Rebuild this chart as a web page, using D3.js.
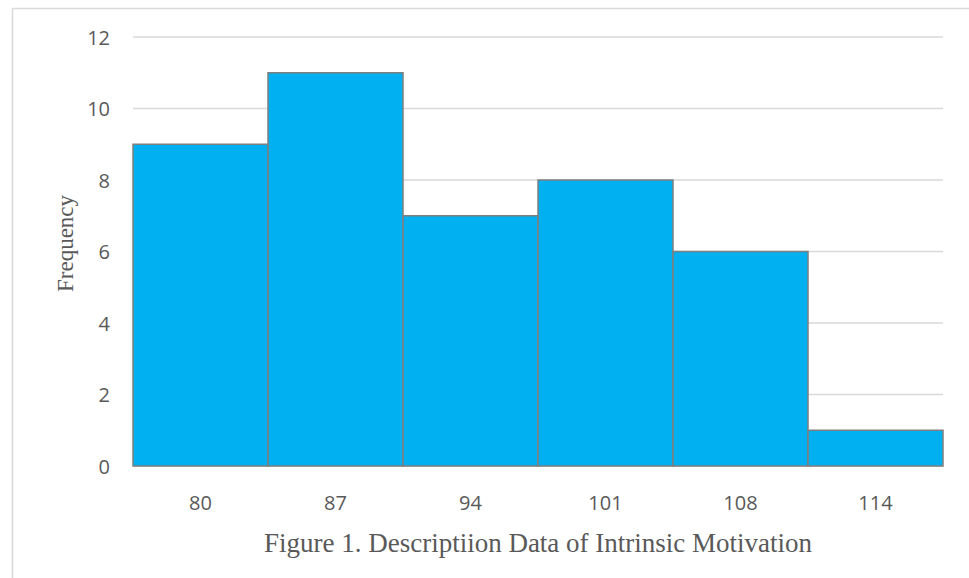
<!DOCTYPE html>
<html>
<head>
<meta charset="utf-8">
<script src="https://cdn.jsdelivr.net/npm/d3@7"></script>
<style>
  html, body { margin: 0; padding: 0; background: #fff; }
  svg { display: block; }
</style>
</head>
<body>
<svg id="chart" width="969" height="578"></svg>
<script>
// Histogram bins and their frequencies
const binLabels = ["80", "87", "94", "101", "108", "114"];
const frequencies = [9, 11, 7, 8, 6, 1];
const yTicks = [0, 2, 4, 6, 8, 10, 12];
const yTitle = "Frequency";
const caption = "Figure 1. Descriptiion Data of Intrinsic Motivation";

const svg = d3.select("#chart");
const W = 969, H = 578;
const plot = { left: 133, right: 943, top: 37, bottom: 466 };

// Outer chart frame
svg.append("rect")
  .attr("x", 12.5).attr("y", 8.5)
  .attr("width", W).attr("height", H)
  .attr("fill", "none")
  .attr("stroke", "#d9d9d9")
  .attr("stroke-width", 1.5);

const x = d3.scaleBand()
  .domain(binLabels)
  .range([plot.left, plot.right])
  .padding(0);

const y = d3.scaleLinear()
  .domain([0, 12])
  .range([plot.bottom, plot.top]);

// Horizontal gridlines
svg.append("g")
  .selectAll("line")
  .data(yTicks)
  .join("line")
  .attr("x1", plot.left).attr("x2", plot.right)
  .attr("y1", d => y(d)).attr("y2", d => y(d))
  .attr("stroke", "#d9d9d9")
  .attr("stroke-width", 1.3);

// Y axis tick labels
const yAxis = d3.axisLeft(y).tickValues(yTicks).tickSize(0).tickPadding(0);
const gy = svg.append("g")
  .attr("transform", `translate(${plot.left - 23},0)`)
  .call(yAxis);
gy.select(".domain").remove();
gy.selectAll("text")
  .attr("font-family", "'Open Sans', Lato, sans-serif")
  .attr("font-size", 20)
  .attr("fill", "#595959")
  .attr("dy", "0.35em");

// Bars
svg.append("g")
  .selectAll("rect")
  .data(frequencies)
  .join("rect")
  .attr("x", (d, i) => x(binLabels[i]))
  .attr("y", d => y(d))
  .attr("width", x.bandwidth())
  .attr("height", d => y(0) - y(d))
  .attr("fill", "#00b0f0")
  .attr("stroke", "#7f7f7f")
  .attr("stroke-width", 1.5);

// X axis category labels
const xAxis = d3.axisBottom(x).tickSize(0).tickPadding(0);
const gx = svg.append("g")
  .attr("transform", `translate(0,${plot.bottom + 30})`)
  .call(xAxis);
gx.select(".domain").remove();
gx.selectAll("text")
  .attr("font-family", "'Open Sans', Lato, sans-serif")
  .attr("font-size", 20)
  .attr("fill", "#595959");

// Y axis title
svg.append("text")
  .attr("transform", `translate(73,${(plot.top + plot.bottom) / 2 - 8}) rotate(-90)`)
  .attr("text-anchor", "middle")
  .attr("font-family", "'Liberation Serif', 'Times New Roman', serif")
  .attr("font-size", 23)
  .attr("fill", "#595959")
  .text(yTitle);

// Caption below the axis
svg.append("text")
  .attr("x", 538)
  .attr("y", 552)
  .attr("text-anchor", "middle")
  .attr("font-family", "'Liberation Serif', 'Times New Roman', serif")
  .attr("font-size", 27)
  .attr("fill", "#595959")
  .text(caption);
</script>
</body>
</html>
